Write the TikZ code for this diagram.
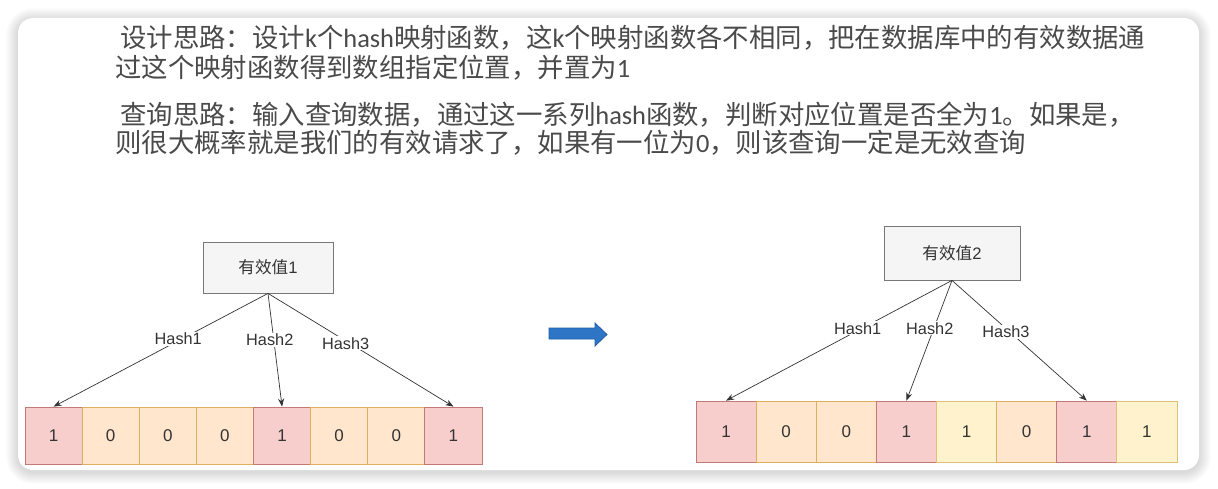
\documentclass[tikz,border=0pt]{standalone}
\usepackage{fontspec}
\setmainfont{Liberation Sans}
\newfontfamily\cjk{Noto Sans CJK SC}
\newfontfamily\calib{Carlito}
\usetikzlibrary{arrows.meta,positioning}

\definecolor{hitfill}{HTML}{F8CECC}
\definecolor{hitline}{HTML}{C27A77}
\definecolor{zerofill}{HTML}{FFE6CC}
\definecolor{zeroline}{HTML}{DDB060}
\definecolor{setfill}{HTML}{FFF2CC}
\definecolor{setline}{HTML}{DCC27A}
\definecolor{boxfill}{HTML}{F5F5F5}
\definecolor{boxline}{HTML}{777777}
\definecolor{inkgray}{HTML}{333333}
\definecolor{notegray}{HTML}{4A4A4A}
\definecolor{arrowblue}{HTML}{2E75C6}
\definecolor{arrowedge}{HTML}{1F5FA8}

\begin{document}
\begin{tikzpicture}[x=1pt,y=-1pt,
    bitcell/.style={draw=#1line, fill=#1fill, line width=0.8pt, inner sep=0pt,
        text=inkgray, font=\fontsize{17}{19}\selectfont},
    valuebox/.style={draw=boxline, fill=boxfill, line width=0.8pt, inner sep=0pt,
        text=inkgray, font=\cjk\fontsize{16.6}{19}\selectfont},
    hashline/.style={draw=inkgray, line width=0.7pt, -{Stealth[length=8pt,width=6pt]}},
    hashlabel/.style={fill=white, inner sep=1pt, xshift=-4pt, text=inkgray,
        font=\fontsize{16.3}{18}\selectfont},
    note/.style={anchor=west, inner sep=0pt, text=notegray,
        font=\cjk\fontsize{26.4}{30}\selectfont}]

    \useasboundingbox (0,0) rectangle (1218,489);
    \fill[white] (0,0) rectangle (1218,489);

    % card with soft shadow
    \foreach \k in {1,...,12}
        \fill[black, opacity=0.011, rounded corners={(15+\k)*1pt}]
            (18-\k,18-\k+2) rectangle (1199+\k,470+\k+2);
    \fill[white, rounded corners=15pt] (18,18) rectangle (1199,470);

    % description
    \node[note] (design1) at (120,37.5) {设计思路：设计{\calib k}个{\calib hash}映射函数，这{\calib k}个映射函数各不相同，把在数据库中的有效数据通};
    \node[note] (design2) at (115,67.5) {过这个映射函数得到数组指定位置，并置为{\calib 1}};
    \node[note] (query1) at (120,115) {查询思路：输入查询数据，通过这一系列{\calib hash}函数，判断对应位置是否全为{\calib 1}。如果是，};
    \node[note] (query2) at (115,142.5) {则很大概率就是我们的有效请求了，如果有一位为{\calib 0}，则该查询一定是无效查询};

    % left: insert value 1
    \node[valuebox, minimum width=130pt, minimum height=51pt] (val1) at (268,267.5) {有效值{\rmfamily 1}};
    \foreach \v/\c [count=\i] in {1/hit,0/zero,0/zero,0/zero,1/hit,0/zero,0/zero,1/hit}
        \node[bitcell=\c, minimum width=57.125pt, minimum height=57pt]
            (a\i) at ({25+57.125*(\i-0.5)},435.5) {\v};

    \draw[hashline] (val1.south) -- node[hashlabel, pos=0.4] {Hash1} (a1.north);
    \draw[hashline] (val1.south) -- node[hashlabel, pos=0.41] {Hash2} (a5.north);
    \draw[hashline] (val1.south) -- node[hashlabel, pos=0.44] {Hash3} (a8.north);

    % arrow between the two cases
    \filldraw[fill=arrowblue, draw=arrowedge, line width=0.8pt]
        (549,328) -- (595,328) -- (595,323) -- (607,334.5) -- (595,346)
        -- (595,339) -- (549,339) -- cycle;

    % right: query value 2
    \node[valuebox, minimum width=136pt, minimum height=54pt] (val2) at (952,253) {有效值{\rmfamily 2}};
    \foreach \v/\c [count=\i] in {1/hit,0/zero,0/zero,1/hit,1/set,0/zero,1/hit,1/set}
        \node[bitcell=\c, minimum width=60.125pt, minimum height=61pt]
            (b\i) at ({696+60.125*(\i-0.5)},431.5) {\v};

    \draw[hashline] (val2.south) -- node[hashlabel, pos=0.4] {Hash1} (b1.north);
    \draw[hashline] (val2.south) -- node[hashlabel, pos=0.4] {Hash2} (b4.north);
    \draw[hashline] (val2.south) -- node[hashlabel, pos=0.43] {Hash3} (b7.north);
\end{tikzpicture}
\end{document}
